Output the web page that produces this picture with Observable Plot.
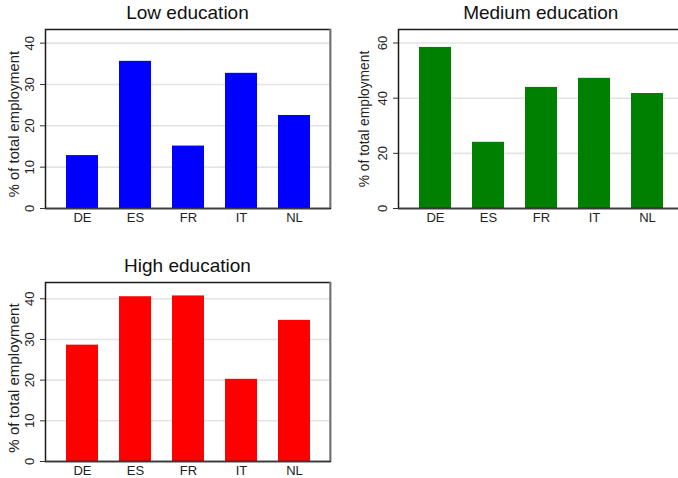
<!DOCTYPE html>
<html>
<head>
<meta charset="utf-8">
<script src="https://cdn.jsdelivr.net/npm/d3@7"></script>
<script src="https://cdn.jsdelivr.net/npm/@observablehq/plot@0.6"></script>
<style>
  html, body { margin: 0; padding: 0; background: #fff; }
  #root { position: relative; width: 678px; height: 478px; overflow: hidden; background: #fff;
          font-family: "Liberation Sans", Arial, Helvetica, sans-serif; }
  .panel { position: absolute; width: 340px; height: 240px; }
  .title { position: absolute; text-align: center; font-size: 19px; color: #111; white-space: nowrap; }
  .chart { position: absolute; }
</style>
</head>
<body>
<div id="root"></div>
<script>
// Share of total employment by education level, per country (%)
const countries = ["DE", "ES", "FR", "IT", "NL"];
const lowEdu    = [12.8, 35.6, 15.1, 32.7, 22.5];
const mediumEdu = [58.4, 24.0, 43.9, 47.2, 41.7];
const highEdu   = [28.6, 40.5, 40.7, 20.2, 34.7];

const lowTicks = [0, 10, 20, 30, 40];
const mediumTicks = [0, 20, 40, 60];
const highTicks = [0, 10, 20, 30, 40];
const yTitle = "% of total employment";

const panels = [
  { title: "Low education",    values: lowEdu,    color: "#0000ff", ticks: lowTicks,    ymax: 43.3, left: 0,     top: 0,     labelSize: 14.8, labelDx: -31, labelDy: 5 },
  { title: "Medium education", values: mediumEdu, color: "#008000", ticks: mediumTicks, ymax: 64.9, left: 353.3, top: 0,     labelSize: 13.8, labelDx: -34, labelDy: 0 },
  { title: "High education",   values: highEdu,   color: "#ff0000", ticks: highTicks,   ymax: 44.0, left: 0,     top: 253.3, labelSize: 15.1, labelDx: -31, labelDy: 6 }
];

const root = document.getElementById("root");
const mL = 45, mR = 10, mT = 4, mB = 28, plotW = 285, plotH = 179;

// gray right edge of the plot region, drawn over the dark frame
const rightEdge = (index, scales, values, dims) => {
  const x = dims.width - dims.marginRight;
  const line = document.createElementNS("http://www.w3.org/2000/svg", "line");
  line.setAttribute("x1", x); line.setAttribute("x2", x);
  line.setAttribute("y1", dims.marginTop); line.setAttribute("y2", dims.height - dims.marginBottom);
  line.setAttribute("stroke", "#8a8a8a"); line.setAttribute("stroke-width", 1.5);
  return line;
};

for (const p of panels) {
  const data = countries.map((c, i) => ({ country: c, value: p.values[i] }));
  const div = document.createElement("div");
  div.className = "panel";
  div.style.left = p.left + "px";
  div.style.top = p.top + "px";

  const title = document.createElement("div");
  title.className = "title";
  title.textContent = p.title;
  title.style.left = mL + "px";
  title.style.width = plotW + "px";
  title.style.top = "2px";
  div.appendChild(title);

  const W = mL + plotW + mR, H = mT + plotH + mB;
  const holder = document.createElement("div");
  holder.className = "chart";
  holder.style.left = "0px";
  holder.style.top = (29 - mT) + "px";
  holder.style.width = W + "px";
  holder.style.height = H + "px";

  const chart = Plot.plot({
    width: W,
    height: H,
    marginLeft: mL, marginRight: mR, marginTop: mT, marginBottom: mB,
    style: { fontFamily: "Liberation Sans, Arial, sans-serif", fontSize: "13px", color: "#222",
             background: "transparent", overflow: "visible", maxWidth: "none" },
    x: { domain: countries, paddingInner: 0.4, paddingOuter: 0.37, label: null },
    y: { domain: [0, p.ymax], label: null },
    marks: [
      Plot.gridY(p.ticks.filter(t => t > 0), { stroke: "#e4e4e4", strokeOpacity: 1, strokeWidth: 1.6 }),
      Plot.barY(data, { x: "country", y: "value", fill: p.color }),
      Plot.frame({ stroke: "#1a1a1a", strokeWidth: 1.5 }),
      rightEdge,
      Plot.ruleY([0], { stroke: "#3a3a3a", strokeWidth: 1.5 }),
      Plot.axisX({ tickSize: 0, tickPadding: 4, fontSize: 13, label: null }),
      Plot.axisY({ ticks: p.ticks, tickSize: 5, tickPadding: 7, tickRotate: -90, fontSize: 13,
                   label: null, stroke: "#333" }),
      Plot.text([yTitle], { frameAnchor: "left", textAnchor: "middle", rotate: -90,
                            dx: p.labelDx, dy: p.labelDy, fontSize: p.labelSize, fill: "#222" })
    ]
  });
  holder.appendChild(chart);
  div.appendChild(holder);
  root.appendChild(div);
}
</script>
</body>
</html>
